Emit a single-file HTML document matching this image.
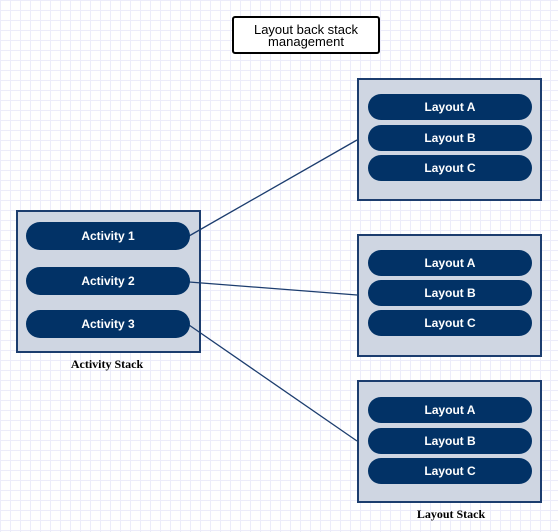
<!DOCTYPE html>
<html><head><style>
body{margin:0;width:558px;height:532px;position:relative;overflow:hidden;background-color:#fff;
background-image:linear-gradient(#ececfa 1px,transparent 1px),linear-gradient(90deg,#ececfa 1px,transparent 1px);
background-size:10px 10px;font-family:"Liberation Sans",sans-serif}
.box{position:absolute;background:#cfd6e2;border:2px solid #1c3d6e;box-sizing:border-box}
.pill{position:absolute;background:#023266;color:#fff;font-weight:bold;font-size:12px;border-radius:14px;display:flex;align-items:center;justify-content:center;box-sizing:border-box}
.lbl{position:absolute;font-family:"Liberation Serif",serif;font-weight:bold;font-size:12px;color:#000;transform:translateX(-50%);white-space:nowrap}
</style></head><body>
<div style="position:absolute;left:232px;top:16px;width:148px;height:38px;border:2px solid #000;border-radius:3px;box-sizing:border-box;background:#fff;font-size:13px;line-height:12px;text-align:center;padding-top:6px">Layout back stack<br>management</div>
<div class="box" style="left:16px;top:210px;width:185px;height:143px"></div>
<svg width="558" height="532" style="position:absolute;left:0;top:0">
<g stroke="#1c3d6e" stroke-width="1.3"><line x1="189" y1="236" x2="357" y2="140"/><line x1="189" y1="282" x2="357" y2="295"/><line x1="189" y1="325" x2="357" y2="441"/></g></svg>
<div class="pill" style="left:26px;top:222px;width:164px;height:28px">Activity 1</div>
<div class="pill" style="left:26px;top:267px;width:164px;height:28px">Activity 2</div>
<div class="pill" style="left:26px;top:310px;width:164px;height:28px">Activity 3</div>
<div class="lbl" style="left:107px;top:357px">Activity Stack</div>
<div class="box" style="left:357px;top:78px;width:185px;height:123px"></div>
<div class="pill" style="left:368px;top:94px;width:164px;height:26px">Layout A</div>
<div class="pill" style="left:368px;top:125px;width:164px;height:26px">Layout B</div>
<div class="pill" style="left:368px;top:155px;width:164px;height:26px">Layout C</div>
<div class="box" style="left:357px;top:234px;width:185px;height:123px"></div>
<div class="pill" style="left:368px;top:250px;width:164px;height:26px">Layout A</div>
<div class="pill" style="left:368px;top:280px;width:164px;height:26px">Layout B</div>
<div class="pill" style="left:368px;top:310px;width:164px;height:26px">Layout C</div>
<div class="box" style="left:357px;top:380px;width:185px;height:123px"></div>
<div class="pill" style="left:368px;top:397px;width:164px;height:26px">Layout A</div>
<div class="pill" style="left:368px;top:428px;width:164px;height:26px">Layout B</div>
<div class="pill" style="left:368px;top:458px;width:164px;height:26px">Layout C</div>
<div class="lbl" style="left:451px;top:507px">Layout Stack</div>
</body></html>
